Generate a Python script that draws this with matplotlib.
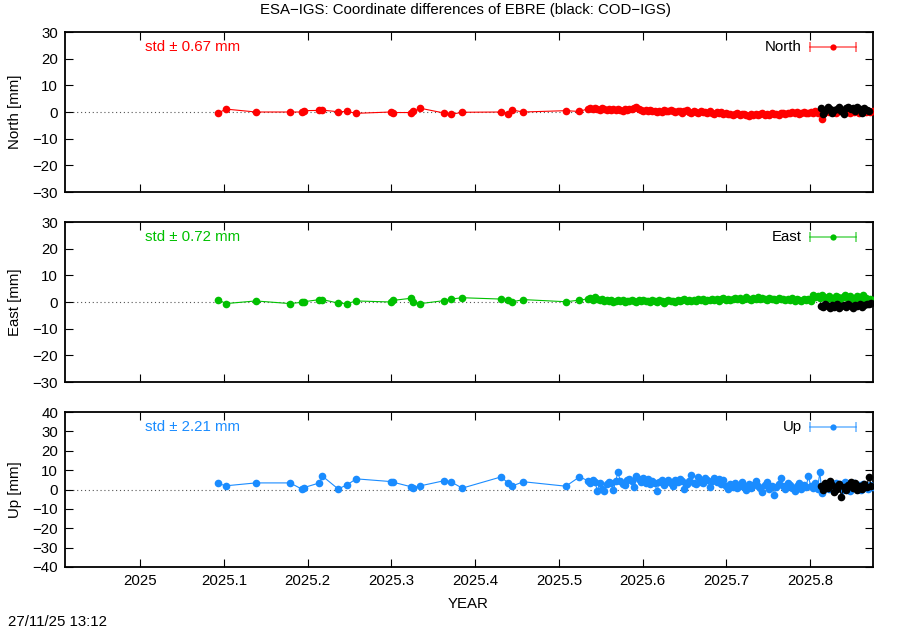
import numpy as np
import matplotlib
matplotlib.use("Agg")
import matplotlib.pyplot as plt

plt.rcParams['font.family'] = ['Liberation Sans', 'DejaVu Sans']
FS = 10.8
plt.rcParams['font.size'] = FS

# ---------------- data ----------------
# sparse epochs (decimal year) before the daily series starts
sparse_years = [2025.0935, 2025.1023, 2025.1381, 2025.1791, 2025.1931, 2025.1958,
                2025.2141, 2025.2177, 2025.2364, 2025.2472, 2025.2579, 2025.2993,
                2025.3017, 2025.3236, 2025.3263, 2025.3347, 2025.3626, 2025.3710,
                2025.3845, 2025.4310, 2025.4391, 2025.4445, 2025.4577, 2025.5083,
                2025.5245]
north_sparse = [-0.4, 1.1, 0.0, 0.0, 0.0, 0.5, 0.6, 0.7, 0.1, 0.2, -0.5, 0.0, -0.2,
                -0.2, 0.2, 1.4, -0.4, -0.9, -0.1, 0.0, -0.9, 0.7, 0.0, 0.5, 0.2]
east_sparse = [0.9, -0.6, 0.4, -0.6, -0.1, 0.1, 0.9, 0.9, -0.4, -0.6, 0.4, 0.0, 0.6,
               1.4, 0.0, -0.6, 0.5, 1.1, 1.6, 1.1, 0.9, 0.1, 0.9, 0.1, 0.7]
up_sparse = [3.1, 1.9, 3.4, 3.4, 0.2, 1.0, 3.4, 6.9, 0.3, 2.4, 5.5, 4.1, 3.8,
             1.4, 1.0, 1.9, 4.5, 4.0, 0.7, 6.5, 3.4, 1.9, 4.0, 1.7, 6.5]

# daily solutions
daily_start = 2025.5349
north_daily = [1.2, 1.5, 1.0, 1.6, 1.3, 0.9, 1.4, 1.1, 0.7, 1.2, 0.8, 1.0, 0.6, 1.1, 0.9,
               0.5, 1.0, 0.7, 1.3, 1.0, 1.6, 2.0, 1.2,
               0.8, 0.5, 0.9, 0.3, 0.6, 0.2, 0.5, 0.0, 0.4, 0.1, 0.6, 0.2, 0.3, 0.7, 0.4,
               0.0, 0.5, 0.2, -0.2, 0.3, 0.6, 0.1, -0.3, 0.2, 0.0, -0.4, 0.3, -0.1, 0.1,
               -0.5, 0.2, -0.2, -0.6, 0.0, -0.3, -0.1, -0.7,
               -0.4, -0.9, -0.6, -1.1, -0.8, -0.5, -1.2, -0.9, -0.6, -1.0, -1.4, -0.8,
               -1.1, -0.7, -1.3, -0.9, -0.5, -1.0, -0.7, -1.2, -0.4, -0.8, -0.6, -1.0, -0.5,
               -0.3, -0.7, -0.2, -0.5, 0.0, -0.4, -0.1, -0.6, -0.2, 0.1, -0.3, -0.5, 0.0,
               -0.2, 0.2,
               -0.4, 0.1, -2.6, -0.2, 0.3, -0.1, 0.4, 0.0, -0.3, 0.2, 0.5, -0.1, 0.3, 0.1,
               -0.2, 0.4, 0.0, 0.3, -0.3, 0.2, 0.1, -0.1, 0.3, 0.0, 0.2]
east_daily = [1.2, 1.6, 0.9, 1.8, 1.3, 0.6, 1.0, 0.4, 0.8, 0.2, 0.6, -0.1, 0.5, 0.9, 0.3,
              0.7, 0.1, 0.5, 0.2, 0.8, 0.4, 0.0, 0.6, 0.3, 0.9, 0.2, 0.5, 0.0, 0.7, 0.4,
              0.1, 0.6, 0.3, -0.2, 0.4, 0.8, 0.2, 0.5, 0.0, 0.6, 0.3, 0.9, 1.2, 0.4, 0.7,
              0.2, 0.8, 0.5, 1.0, 0.6, 1.1, 0.4, 0.9, 0.7, 1.3, 0.8, 1.0, 0.5, 1.2, 1.5,
              0.9, 1.3, 0.7, 1.1, 1.6, 1.0, 1.4, 0.8, 1.2, 1.7, 1.1, 0.9, 1.5, 1.3, 1.8,
              1.0, 1.4, 1.2, 0.8, 1.6, 1.1, 1.3, 0.7, 1.5, 1.0, 1.2, 0.6, 1.1, 0.9, 1.4,
              0.5, 1.0, 0.8, 0.3, 1.2,
              0.7, 1.0, 0.4, 2.5, 1.8, 2.2, 1.5, 2.7, 1.9, 1.3, 2.1, 1.6, 0.9, 2.3, 1.7,
              1.2, 2.0, 2.8, 1.4, 2.1, 1.6, 0.8, 2.4, 1.8, 1.1, 2.6, 1.5, 0.6, 1.2, 0.7]
up_daily = [4.5, 3.2, 5.0, 3.8, -0.8, 3.5, 0.2, -1.0, 2.6, 4.0, 3.1, -0.5, 4.4, 9.0, 4.2,
            2.9, 2.2, 4.8, 5.6, 4.3,
            1.5, 6.8, 5.2, 4.0, 6.1, 3.3, 5.5, 2.8, 4.6, 3.6, -0.9, 3.9, 4.7, 2.5, 4.1,
            5.0, 3.4, 2.0, 4.9, 3.7, 5.4, 4.2, 0.4, 3.0, 4.6, 7.5, 3.5, 2.7, 6.2, 4.0,
            3.3, 5.8, 5.1, 1.4, 4.4, 6.0, 3.8, 5.3, 2.9, 4.7, 1.8, 0.3, 2.6, 1.2, 3.4,
            0.6, 2.0, 4.1, 1.5, -0.2, 3.0, 1.0, 2.4, 4.5, 1.7, 0.8, -1.5, 2.2, 3.8, 0.4,
            1.9, -2.6, 1.1, 2.8, 5.9, 1.6, 0.2, 3.5, 2.3, 0.9, -0.7, 1.8, 3.1, 0.5, 2.5,
            1.3, 6.8, 2.0, 0.6, 3.2, 0.3,
            8.8, -2.0, 1.5, 3.0, 0.2, 2.4, -0.6, 3.6, 1.1, 2.9, 0.0, 4.0, 1.8, -0.8, 2.6,
            3.4, 0.7, 2.1, -0.4, 3.0, 1.6, 0.5, 2.3, 1.2]

# black: COD-IGS comparison
cod_start = 2025.8125
north_cod = [1.5, -0.8, 0.4, 1.9, 1.2, -0.5, 0.6, 1.0, 1.7, 0.3, -0.6, 1.4, 2.0, 1.1,
             1.6, 0.5, 1.8, 1.3, -0.3, 1.5, 0.9, 0.2]
east_cod = [-1.4, -2.0, -0.8, -1.6, -2.3, -1.1, -1.8, -0.9, -2.1, -1.5, -1.2, -1.9, -0.7,
            -1.6, -2.2, -1.0, -1.4, -0.8, -1.7, -1.1, -0.6, -0.9, -0.4]
up_cod = [2.0, -0.5, 3.5, 1.0, 4.5, 2.5, -1.5, 0.5, 3.0, -3.8, 1.5, 0.0, 2.5, 4.0, 1.0,
          3.5, -0.5, 2.0, 0.5, 3.0, 1.5, 6.5, 2.0]

components = ['North', 'East', 'Up']
std_values = [0.67, 0.72, 2.21]
colors = ['#ff0000', '#00c000', '#1a8cff']
ylims = [(-30, 30), (-30, 30), (-40, 40)]
xticks = [2025, 2025.1, 2025.2, 2025.3, 2025.4, 2025.5, 2025.6, 2025.7, 2025.8]
xtick_labels = ['2025', '2025.1', '2025.2', '2025.3', '2025.4', '2025.5', '2025.6',
                '2025.7', '2025.8']
xlim = (2024.9104, 2025.8749)

sparse_sets = [north_sparse, east_sparse, up_sparse]
daily_sets = [north_daily, east_daily, up_daily]
cod_sets = [north_cod, east_cod, up_cod]

# ---------------- figure ----------------
fig = plt.figure(figsize=(9, 6.3), dpi=100)
W, H = 900, 630
boxes = [(32, 192), (222, 382), (412, 567)]
left_px, right_px = 65, 873

for i, comp in enumerate(components):
    top, bot = boxes[i]
    ax = fig.add_axes([left_px / W, (H - bot) / H, (right_px - left_px) / W, (bot - top) / H])
    col = colors[i]
    x = list(sparse_years) + list(daily_start + np.arange(len(daily_sets[i])) / 365.25)
    y = list(sparse_sets[i]) + list(daily_sets[i])
    ax.axhline(0, color='#555555', lw=0.8, ls=(0, (1, 2.5)), zorder=1)
    ax.plot(x, y, '-', color=col, lw=0.8, zorder=2)
    ax.plot(x, y, 'o', color=col, ms=5.5, mec='none', zorder=3)
    xc = cod_start + np.arange(len(cod_sets[i])) / 365.25
    ax.plot(xc, cod_sets[i], '-', color='black', lw=0.8, zorder=4)
    ax.plot(xc, cod_sets[i], 'o', color='black', ms=5.5, mec='none', zorder=4)

    ax.set_xlim(*xlim)
    ax.set_ylim(*ylims[i])
    lo, hi = ylims[i]
    ax.set_yticks(np.arange(lo, hi + 1, 10))
    ax.set_xticks(xticks)
    if i == 2:
        ax.set_xticklabels(xtick_labels)
    else:
        ax.set_xticklabels([])
    ax.tick_params(direction='in', length=6, width=0.8, top=True, right=True,
                   labelsize=FS, pad=5, colors='black')
    for sp in ax.spines.values():
        sp.set_linewidth(1.3)

    fx = lambda p: (p - left_px) / (right_px - left_px)
    ly = 1 - 15 / (bot - top)
    # std label
    ax.text(fx(145), ly, f'std \u00b1 {std_values[i]:.2f} mm', color=col,
            transform=ax.transAxes, ha='left', va='center', fontsize=FS)
    # legend key
    ax.text(fx(802), ly, comp, transform=ax.transAxes, ha='right', va='center',
            fontsize=FS)
    ax.plot([fx(810), fx(856)], [ly, ly], color=col, alpha=0.6, lw=1.2,
            transform=ax.transAxes, clip_on=False)
    ax.plot([fx(810), fx(856)], [ly, ly], '|', color=col, alpha=0.6, ms=7, mew=1.2,
            transform=ax.transAxes, clip_on=False)
    ax.plot([fx(833)], [ly], 'o', color=col, ms=4.5, mec='none',
            transform=ax.transAxes, clip_on=False)

    fig.text(15 / W, 1 - ((top + bot) / 2) / H, f'{comp} [mm]', rotation=90,
             ha='center', va='center', fontsize=FS)

fig.text(465 / W, 1 - 10 / H, 'ESA\u2212IGS: Coordinate differences of EBRE (black: COD\u2212IGS)',
         ha='center', va='center', fontsize=FS)
fig.text(468 / W, 1 - 604 / H, 'YEAR', ha='center', va='center', fontsize=FS)
fig.text(8 / W, 1 - 622 / H, '27/11/25 13:12', ha='left', va='center', fontsize=FS)

fig.savefig('out.png', dpi=100)
